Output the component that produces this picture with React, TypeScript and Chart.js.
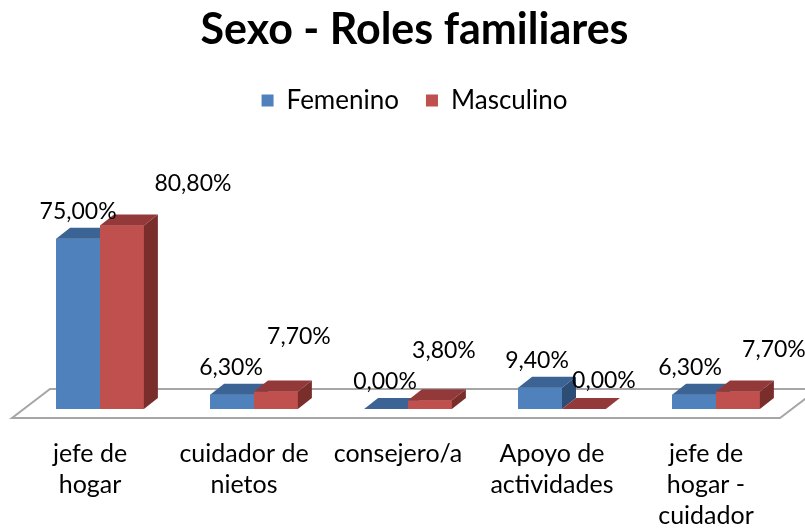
import React, { useEffect, useRef } from "react";
import { Chart, registerables } from "chart.js";

Chart.register(...registerables);

const categories: (string | string[])[] = [
  ["jefe de", "hogar"],
  ["cuidador de", "nietos"],
  "consejero/a",
  ["Apoyo de", "actividades"],
  ["jefe de", "hogar -", "cuidador"],
];
const femenino = [75.0, 6.3, 0.0, 9.4, 6.3];
const masculino = [80.8, 7.7, 3.8, 0.0, 7.7];
const seriesNames = ["Femenino", "Masculino"];

const FONT = "Lato, 'Open Sans', sans-serif";
const FRONT = ["#4F81BD", "#C0504D"];
const TOP = ["#3B6394", "#94393A"];
const SIDE = ["#2E4D74", "#7A2E2C"];
const DEPTH_X = 14;
const DEPTH_Y = 11;
// label placement (pixel offsets from bar centre / top), per series
const labelShift = [
  [[0, -27], [-1, -27], [-1, -27], [-3, -27], [-4, -27]],
  [[71, -42], [23, -55], [14, -50], [20, -28], [36, -42]],
];

const fmt = (v: number) => v.toFixed(2).replace(".", ",") + "%";

const bar3d = {
  id: "bar3d",
  beforeDatasetsDraw(chart: any) {
    const { ctx, chartArea, scales } = chart;
    const y0 = scales.y.getPixelForValue(0);
    const fl = chartArea.left - 11;
    const fr = chartArea.right - 13;
    const fy = y0 + 9;
    const by = y0 - 20;
    const dx = 38;
    ctx.save();
    ctx.beginPath();
    ctx.moveTo(fl, fy);
    ctx.lineTo(fr, fy);
    ctx.lineTo(fr + dx, by);
    ctx.lineTo(fl + dx, by);
    ctx.closePath();
    ctx.fillStyle = "#ffffff";
    ctx.fill();
    ctx.strokeStyle = "#a6a6a6";
    ctx.lineWidth = 2;
    ctx.stroke();
    ctx.restore();
  },
  afterDatasetsDraw(chart: any) {
    const { ctx } = chart;
    const n = chart.data.labels.length;
    ctx.save();
    for (let i = 0; i < n; i++) {
      chart.data.datasets.forEach((_ds: any, d: number) => {
        const el = chart.getDatasetMeta(d).data[i];
        const { x, y, base, width } = el.getProps(["x", "y", "base", "width"], true);
        const l = x - width / 2;
        const r = x + width / 2;
        ctx.fillStyle = FRONT[d];
        ctx.fillRect(l, y, width, base - y);
        ctx.beginPath();
        ctx.moveTo(l, y);
        ctx.lineTo(r, y);
        ctx.lineTo(r + DEPTH_X, y - DEPTH_Y);
        ctx.lineTo(l + DEPTH_X, y - DEPTH_Y);
        ctx.closePath();
        ctx.fillStyle = TOP[d];
        ctx.fill();
        ctx.beginPath();
        ctx.moveTo(r, y);
        ctx.lineTo(r + DEPTH_X, y - DEPTH_Y);
        ctx.lineTo(r + DEPTH_X, base - DEPTH_Y);
        ctx.lineTo(r, base);
        ctx.closePath();
        ctx.fillStyle = SIDE[d];
        ctx.fill();
      });
    }
    ctx.restore();
  },
  afterDraw(chart: any) {
    const { ctx } = chart;
    ctx.save();
    ctx.font = `23px ${FONT}`;
    ctx.fillStyle = "#000";
    ctx.textAlign = "center";
    ctx.textBaseline = "middle";
    chart.data.datasets.forEach((ds: any, d: number) => {
      chart.getDatasetMeta(d).data.forEach((el: any, i: number) => {
        const { x, y } = el.getProps(["x", "y"], true);
        const [ox, oy] = labelShift[d][i];
        ctx.fillText(fmt(ds.data[i]), x + ox, y + oy);
      });
    });
    ctx.restore();
  },
};

export default function App() {
  const ref = useRef<HTMLCanvasElement>(null);
  useEffect(() => {
    if (!ref.current) return;
    const chart = new Chart(ref.current, {
      type: "bar",
      data: {
        labels: categories,
        datasets: [
          { label: seriesNames[0], data: femenino, backgroundColor: FRONT[0], borderWidth: 0 },
          { label: seriesNames[1], data: masculino, backgroundColor: FRONT[1], borderWidth: 0 },
        ],
      },
      options: {
        responsive: false,
        animation: false,
        events: [],
        layout: { padding: { left: 23, right: -1, top: 0, bottom: 0 } },
        datasets: { bar: { categoryPercentage: 0.57, barPercentage: 1 } },
        plugins: {
          title: {
            display: true,
            text: "Sexo - Roles familiares",
            color: "#000",
            font: { family: FONT, size: 43, weight: "bold", lineHeight: 1.2 },
            padding: { top: 4, bottom: 5 },
          },
          legend: {
            display: true,
            labels: {
              color: "#000",
              font: { family: FONT, size: 26 },
              boxWidth: 12,
              boxHeight: 12,
              padding: 27,
            },
          },
          tooltip: { enabled: false },
        },
        scales: {
          x: {
            grid: { display: false, drawTicks: false },
            border: { display: false },
            ticks: {
              color: "#000",
              font: { family: FONT, size: 25, lineHeight: 1.25 },
              padding: 29,
              labelOffset: -10,
              maxRotation: 0,
              autoSkip: false,
            },
            afterFit: (scale: any) => {
              scale.height = 120;
            },
          },
          y: {
            position: "right",
            display: true,
            min: 0,
            max: 125.7,
            grid: { display: false },
            border: { display: false },
            ticks: { display: false },
            afterFit: (scale: any) => {
              scale.width = 13;
            },
          },
        },
      },
      plugins: [bar3d],
    });
    return () => chart.destroy();
  }, []);
  return (
    <div style={{ position: "fixed", left: 0, top: 0, width: 805, height: 529, background: "#fff" }}>
      <canvas ref={ref} width={805} height={529} />
    </div>
  );
}
